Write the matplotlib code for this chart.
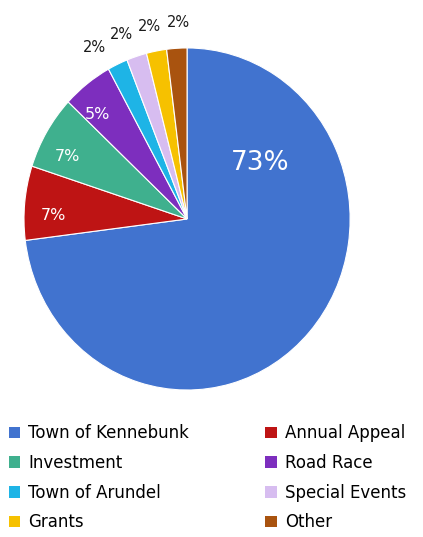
import numpy as np
import matplotlib
matplotlib.use("Agg")
import matplotlib.pyplot as plt
from matplotlib.patches import Patch

# data
categories = ["Town of Kennebunk", "Annual Appeal", "Investment", "Road Race",
              "Town of Arundel", "Special Events", "Grants", "Other"]
shares = [73, 7, 7, 5, 2, 2, 2, 2]
colors = ["#4173CF", "#BE1414", "#3FB08E", "#7D2EBE",
          "#1EB4E6", "#D7BDF0", "#F6C100", "#A9530F"]

plt.rcParams["font.family"] = ["DejaVu Sans"]

fig = plt.figure(figsize=(4.23, 5.37), dpi=100)
# pie centre ~ (187, 219) px, radii 163 x 171 px
ax = fig.add_axes([0.0567, 0.2737, 0.771, 0.637])

wedges, texts, autotexts = ax.pie(
    shares, colors=colors, startangle=90, counterclock=False,
    autopct="%d%%", pctdistance=0.82,
    wedgeprops=dict(edgecolor="white", linewidth=0.8),
    textprops=dict(fontsize=12))

# place percentage labels along each wedge's mid-angle
for w, t, v in zip(wedges, autotexts, shares):
    mid = ((w.theta1 + w.theta2) / 2) % 360
    if v >= 5:
        ang, r = mid + 4, 0.82
        t.set_color("white")
        t.set_fontsize(11.5)
    else:
        # small slices: labels outside, fanned out a little
        ang, r = mid + 1.7 + 0.25 * (mid - 104.4), 1.15
        t.set_color("#1a1a1a")
        t.set_fontsize(10.5)
    a = np.deg2rad(ang)
    t.set_position((r * np.cos(a), r * np.sin(a)))

# the big slice label sits in the upper right in the original
big = autotexts[0]
big.set_position((0.45, 0.33))
big.set_fontsize(19)
big.set_color("white")

ax.set_aspect("auto")
ax.set_xlim(-1, 1)
ax.set_ylim(-1, 1)

# legend laid out row by row in two columns
order = [0, 2, 4, 6, 1, 3, 5, 7]
handles = [Patch(facecolor=colors[i], edgecolor="none") for i in order]
labels = [categories[i] for i in order]
fig.legend(handles, labels, ncol=2, frameon=False, loc="upper left",
           bbox_to_anchor=(0.005, 0.222), fontsize=12,
           handlelength=0.7, handleheight=0.7, handletextpad=0.45,
           columnspacing=4.6, labelspacing=0.70, borderaxespad=0)

fig.savefig("out.png", dpi=100, facecolor="white")
